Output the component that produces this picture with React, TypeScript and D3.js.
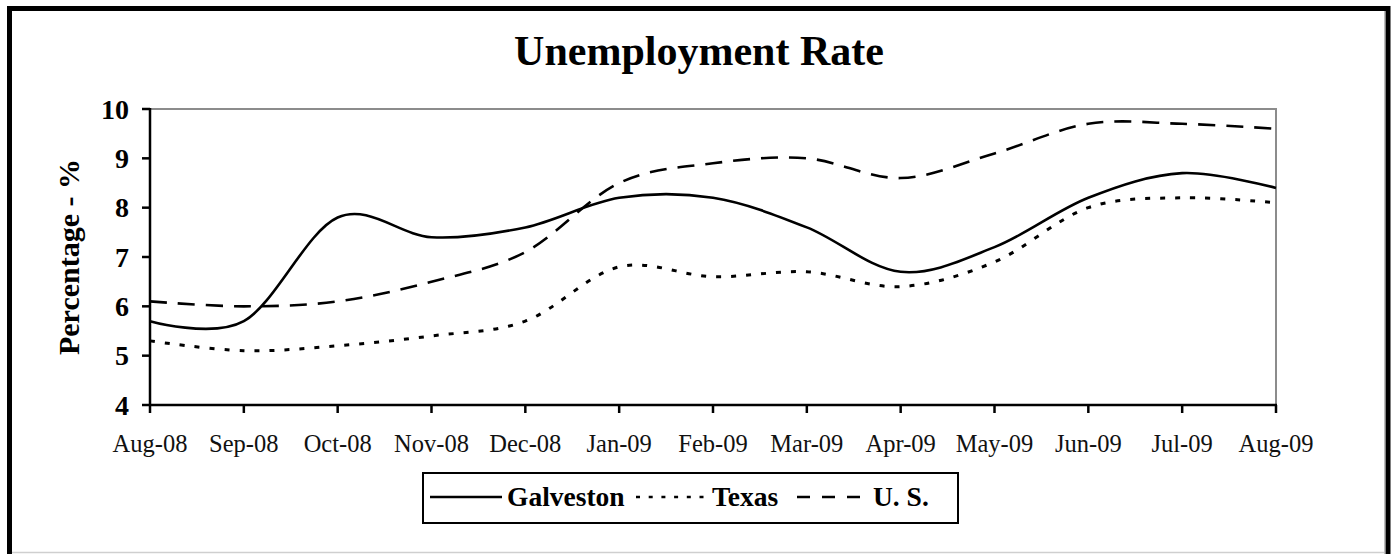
import React from "react";
import * as d3 from "d3";

const months = ["Aug-08","Sep-08","Oct-08","Nov-08","Dec-08","Jan-09","Feb-09","Mar-09","Apr-09","May-09","Jun-09","Jul-09","Aug-09"];
const galveston = [5.7,5.7,7.8,7.4,7.6,8.2,8.2,7.6,6.7,7.2,8.2,8.7,8.4];
const texas = [5.3,5.1,5.2,5.4,5.7,6.8,6.6,6.7,6.4,6.9,8.0,8.2,8.1];
const us = [6.1,6.0,6.1,6.5,7.1,8.5,8.9,9.0,8.6,9.1,9.7,9.7,9.6];
const yTicks = [4,5,6,7,8,9,10];

const W = 1393, H = 554;
const L = 150, R = 1276, T = 109, B = 405;
const FONT = "'Liberation Serif', 'Times New Roman', serif";

export default function App() {
  const x = d3.scalePoint<string>().domain(months).range([L, R]);
  const y = d3.scaleLinear().domain([4, 10]).range([B, T]);
  const line = d3.line<number>()
    .x((_, i) => x(months[i]) as number)
    .y((d) => y(d))
    .curve(d3.curveCardinal.tension(0));

  const series = [
    { name: "Galveston", data: galveston, dash: undefined as string | undefined, width: 2.6 },
    { name: "Texas", data: texas, dash: "5,10", width: 3 },
    { name: "U. S.", data: us, dash: "17,11", width: 2.6 },
  ];

  return (
    <svg width={W} height={H} style={{ position: "absolute", left: 0, top: 0, background: "#fff" }} fontFamily={FONT}>
      <rect x={0} y={0} width={W} height={H} fill="#fff" />
      <line x1={12} x2={1385} y1={552.5} y2={552.5} stroke="#cfcfcf" strokeWidth={1.5} />
      <line x1={1384.5} x2={1384.5} y1={11} y2={554} stroke="#bdbdbd" strokeWidth={1} />
      <rect x={9.5} y={8.5} width={1378.5} height={600} fill="none" stroke="#000" strokeWidth={5} />

      <text x={699} y={65} textAnchor="middle" fontSize={42} fontWeight="bold" fontFamily={FONT}>Unemployment Rate</text>

      <line x1={L} x2={R + 1} y1={T} y2={T} stroke="#8c8c8c" strokeWidth={2} />
      <line x1={R} x2={R} y1={T} y2={B} stroke="#8c8c8c" strokeWidth={2} />

      {series.map((s) => (
        <path key={s.name} d={line(s.data) as string} fill="none" stroke="#000" strokeWidth={s.width} strokeDasharray={s.dash} />
      ))}

      <line x1={L} x2={L} y1={T - 1} y2={B + 1} stroke="#000" strokeWidth={2.5} />
      <line x1={L - 1} x2={R + 1} y1={B} y2={B} stroke="#000" strokeWidth={2.5} />
      {yTicks.map((t) => (
        <g key={t}>
          <line x1={L - 8} x2={L} y1={y(t)} y2={y(t)} stroke="#000" strokeWidth={2.5} />
          <text x={129} y={y(t)} dy="0.34em" textAnchor="end" fontSize={28} fontWeight="bold" fontFamily={FONT}>{t}</text>
        </g>
      ))}
      {months.map((m) => (
        <g key={m}>
          <line x1={x(m)} x2={x(m)} y1={B} y2={B + 8} stroke="#000" strokeWidth={2.5} />
          <text x={x(m)} y={452} textAnchor="middle" fontSize={24.5} fontFamily={FONT} fill="#111">{m}</text>
        </g>
      ))}
      <text transform={`translate(79,${(T + B) / 2}) rotate(-90)`} textAnchor="middle" fontSize={30} fontWeight="bold" fontFamily={FONT}>Percentage - %</text>

      <rect x={423} y={473} width={535} height={50} fill="#fff" stroke="#000" strokeWidth={2} />
      <line x1={430} x2={502} y1={497} y2={497} stroke="#000" strokeWidth={2.5} />
      <text x={507} y={506} fontSize={27.5} fontWeight="bold" fontFamily={FONT}>Galveston</text>
      <line x1={636} x2={712} y1={497} y2={497} stroke="#000" strokeWidth={2.5} strokeDasharray="4,8.7" />
      <text x={712} y={506} fontSize={27.5} fontWeight="bold" fontFamily={FONT}>Texas</text>
      <line x1={797} x2={862} y1={497} y2={497} stroke="#000" strokeWidth={2.5} strokeDasharray="13,12" />
      <text x={873} y={506} fontSize={27.5} fontWeight="bold" fontFamily={FONT}>U. S.</text>
    </svg>
  );
}
